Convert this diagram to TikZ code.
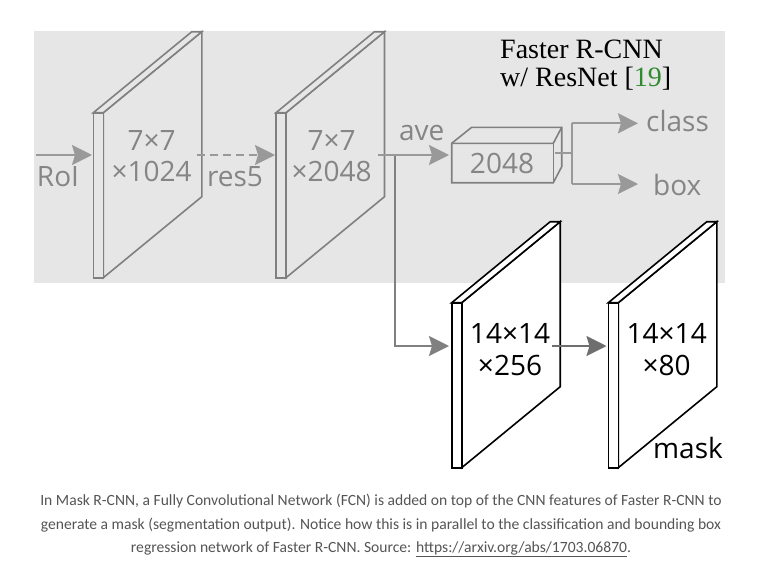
\documentclass[tikz,border=0pt]{standalone}
\usepackage{fontspec}
\setmainfont{Liberation Serif}
\newfontfamily\diafont{Open Sans}
\newfontfamily\capfont{Carlito}
\usetikzlibrary{arrows.meta}
\definecolor{bgc}{HTML}{E6E6E6}
\definecolor{lg}{HTML}{999999}
\definecolor{mg}{HTML}{808080}
\definecolor{dg}{HTML}{6E6E6E}
\definecolor{tg}{HTML}{858585}
\definecolor{capc}{HTML}{555555}
\definecolor{refg}{HTML}{2E8B2E}
\tikzset{
  slabg/.style={draw=mg, line width=1.6pt, fill=bgc, line join=miter},
  slabk/.style={draw=black, line width=1.6pt, fill=white, line join=miter},
  arr/.style={line width=2.2pt, -{Stealth[length=20pt,width=20pt,inset=3pt]}},
  glabel/.style={font=\diafont\fontsize{28}{28}\selectfont, text=tg, inner sep=0pt, anchor=base},
  klabel/.style={font=\diafont\fontsize{28}{28}\selectfont, text=black, inner sep=0pt, anchor=base},
  captext/.style={font=\capfont\fontsize{15.6}{16}\selectfont, text=capc, inner sep=0pt, anchor=base},
  titletext/.style={anchor=base west, inner sep=0pt, font=\fontsize{28}{24}\selectfont}
}
\newcommand{\myslab}[4]{% x, ytop, style, name
  \draw[#3] (#1+10,#2) -- (#1+108.5,#2-81) -- (#1+108.5,#2+84) -- (#1+10,#2+165) -- cycle;
  \draw[#3] (#1,#2) -- (#1+98.5,#2-81) -- (#1+108.5,#2-81) -- (#1+10,#2) -- cycle;
  \draw[#3] (#1,#2) rectangle (#1+10,#2+165);
  \coordinate (#4) at (#1,#2);
}
\begin{document}
\begin{tikzpicture}[x=1pt,y=-1pt]
\useasboundingbox (0,0) rectangle (759,574);
\fill[white] (0,0) rectangle (759,574);
\fill[bgc] (34,31) rectangle (725,283);

% gray slabs
\myslab{93.3}{112.7}{slabg}{s1}
\myslab{276}{112.7}{slabg}{s2}

% named endpoints
\coordinate (roiin) at (36,155);
\coordinate (s1in) at (92,155);
\coordinate (s1out) at (196.7,155);
\coordinate (s2in) at (275,155);
\coordinate (s2out) at (378,155);
\coordinate (br) at (395,155);
\coordinate (brdown) at (395,346);
\coordinate (boxin) at (449,155);
\coordinate (s3in) at (449,346);
\coordinate (s3out) at (551.7,346);
\coordinate (s4in) at (606.5,346);
\coordinate (boxout) at (555,153);
\coordinate (fork) at (571.7,153);
\coordinate (forkt) at (571.7,123.3);
\coordinate (forkb) at (571.7,184);
\coordinate (clsin) at (638,123.3);
\coordinate (boxoutin) at (638,184);

% branch to mask head (under the other lines)
\draw[mg, line width=2.2pt, -{Stealth[length=20pt,width=20pt,inset=3pt]}] (br) -- (brdown) -- (s3in);

% black slabs
\myslab{451.7}{302.7}{slabk}{s3}
\myslab{608.3}{302.7}{slabk}{s4}

% arrows in gray area
\draw[arr, lg] (roiin) -- (s1in);
\draw[arr, lg, dashed, dash pattern=on 8pt off 5pt] (s1out) -- (s2in);
\draw[arr, lg] (s2out) -- (boxin);
\draw[arr, dg] (s3out) -- (s4in);

% 2048 box
\draw[mg, line width=1.6pt, fill=bgc, line join=miter]
  (451.7,143.3) -- (471.7,127.3) -- (561.7,127.3) -- (561.7,166.7) -- (553.3,182.7) -- (451.7,182.7) -- cycle;
\draw[mg, line width=1.6pt] (451.7,143.3) -- (553.3,143.3) -- (561.7,127.3);
\draw[mg, line width=1.6pt] (553.3,143.3) -- (553.3,182.7);
\node[glabel] (v2048) at (502,173.3) {2048};

\draw[lg, line width=2.2pt] (boxout) -- (fork);
\draw[lg, line width=2.2pt] (forkt) -- (forkb);
\draw[arr, lg] (forkt) -- (clsin);
\draw[arr, lg] (forkb) -- (boxoutin);

% labels
\node[glabel] (l1a) at (151.7,150) {7×7};
\node[glabel] (l1b) at (151.7,181.7) {×1024};
\node[glabel] (l2a) at (331.7,150) {7×7};
\node[glabel] (l2b) at (331.7,181.7) {×2048};
\node[glabel] (roi) at (58,186.7) {RoI};
\node[glabel] (res5) at (235,186.7) {res5};
\node[glabel] (ave) at (421.7,140) {ave};
\node[glabel, anchor=base west] (cls) at (646,131.7) {class};
\node[glabel, anchor=base west] (bx) at (653,195) {box};
\node[klabel] (l3a) at (510,343.3) {14×14};
\node[klabel] (l3b) at (510,375) {×256};
\node[klabel] (l4a) at (666.7,343.3) {14×14};
\node[klabel] (l4b) at (666.7,375) {×80};
\node[klabel] (mask) at (688,458.3) {mask};

% title
\node[titletext] (t1) at (500,58) {Faster R-CNN};
\node[titletext] (t2) at (500,86) {w/ ResNet [\textcolor{refg}{19}]};

% caption
\node[captext] (c1) at (381,505.5) {In Mask R-CNN, a Fully Convolutional Network (FCN) is added on top of the CNN features of Faster R-CNN to};
\node[captext] (c2) at (381,529) {generate a mask (segmentation output). Notice how this is in parallel to the classification and bounding box};
\node[captext] (c3) at (381,552) {regression network of Faster R-CNN. Source: \underline{https://arxiv.org/abs/1703.06870}.};
\end{tikzpicture}
\end{document}
